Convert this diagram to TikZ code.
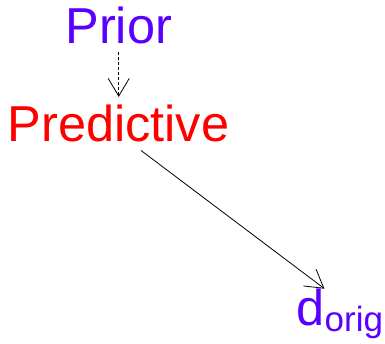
\documentclass[tikz,border=0pt]{standalone}
\usepackage{fontspec}
\setmainfont{Liberation Sans}
\usetikzlibrary{arrows.meta}
\definecolor{priorblue}{RGB}{90,0,255}
\begin{document}
\begin{tikzpicture}
	\tikzstyle{every node}=[font=\fontsize{50.5pt}{60pt}\selectfont, inner sep=8pt, anchor=base west]
	\useasboundingbox (0,0) rectangle (13.531,12.055);
	
	\node[text=priorblue] (prior) at (2.010,10.526) {Prior};
	\node[text=red] (pred) at (-0.020,7.075) {Predictive};
	\node[text=priorblue, inner sep=0pt] (dorig) at (10.403,0.615) {d};
	\node[text=priorblue, inner sep=0pt, font=\fontsize{35pt}{42pt}\selectfont] (orig) at ([yshift=-6pt]dorig.base east) {orig};
	
	\draw[line width=0.8pt, dash pattern=on 3pt off 2pt, -{Straight Barb[length=17.7pt,width=21pt]}] (prior.south) -- (prior.south |- pred.north);
	\draw[line width=0.8pt, -{Straight Barb[length=17.7pt,width=21pt]}] (pred.-50) -- (dorig.north east);
	
\end{tikzpicture}
\end{document}
